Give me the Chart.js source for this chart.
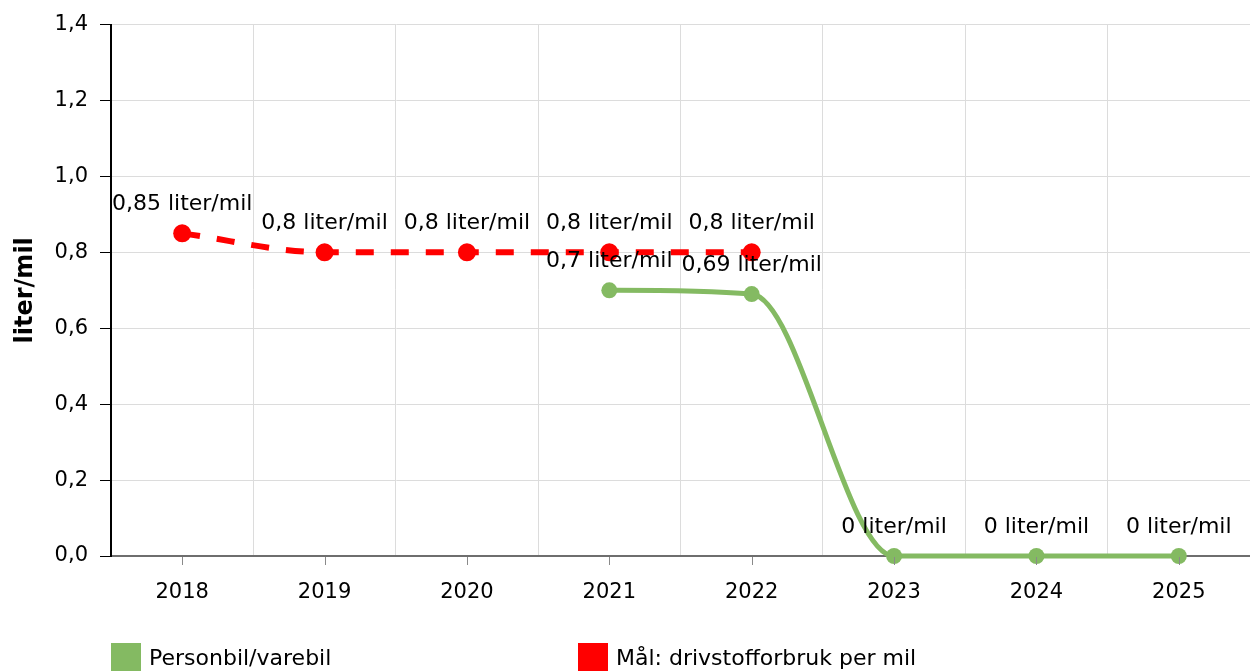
<!DOCTYPE html>
<html>
<head>
<meta charset="utf-8">
<script src="https://cdn.jsdelivr.net/npm/chart.js@4"></script>
<style>
  html, body { margin: 0; padding: 0; background: #fff; overflow: hidden; }
  #wrap { position: relative; width: 1250px; height: 671px; }
  #legend { position: absolute; left: 111px; top: 643px; display: flex; font-family: "DejaVu Sans", Verdana, sans-serif; font-size: 22px; color: #000; }
  .item { display: flex; align-items: flex-start; width: 467px; }
  .box { width: 30px; height: 30px; margin-right: 8px; flex: none; }
  .txt { line-height: 30px; white-space: nowrap; }
</style>
</head>
<body>
<div id="wrap">
  <canvas id="c" width="1250" height="671"></canvas>
  <div id="legend"></div>
</div>
<script>
const categories = ["2018", "2019", "2020", "2021", "2022", "2023", "2024", "2025"];
const personbil = [null, null, null, 0.7, 0.69, 0, 0, 0];
const maal = [0.85, 0.8, 0.8, 0.8, 0.8, null, null, null];
const seriesNames = ["Personbil/varebil", "Mål: drivstofforbruk per mil"];
const yTicks = [0, 0.2, 0.4, 0.6, 0.8, 1.0, 1.2, 1.4];
const unit = " liter/mil";
const FONT = '"DejaVu Sans", Verdana, sans-serif';

function fmt(v) {
  return String(Number(v.toFixed(2))).replace('.', ',');
}

const labelPlugin = {
  id: 'pointLabels',
  afterDatasetsDraw(chart) {
    const ctx = chart.ctx;
    ctx.save();
    ctx.font = '22px ' + FONT;
    ctx.fillStyle = '#000';
    ctx.textAlign = 'center';
    ctx.textBaseline = 'middle';
    chart.data.datasets.forEach((ds, i) => {
      const meta = chart.getDatasetMeta(i);
      meta.data.forEach((pt, j) => {
        const v = ds.data[j];
        if (v === null || v === undefined) return;
        ctx.fillText(fmt(v) + unit, pt.x, pt.y - 29);
      });
    });
    ctx.restore();
  }
};

const xTickPlugin = {
  id: 'xTickMarks',
  afterDraw(chart) {
    const ctx = chart.ctx;
    const xs = chart.scales.x;
    const y0 = chart.chartArea.bottom;
    ctx.save();
    ctx.strokeStyle = '#8a8a8a';
    ctx.lineWidth = 1;
    for (let i = 0; i < categories.length; i++) {
      const x = Math.round(xs.getPixelForTick(i)) + 0.5;
      ctx.beginPath();
      ctx.moveTo(x, y0 + 1);
      ctx.lineTo(x, y0 + 9);
      ctx.stroke();
    }
    ctx.restore();
  }
};

const chart = new Chart(document.getElementById('c'), {
  type: 'line',
  data: {
    labels: categories,
    datasets: [
      {
        label: seriesNames[0],
        data: personbil,
        borderColor: '#84ba62',
        backgroundColor: '#84ba62',
        borderWidth: 5,
        pointRadius: 8,
        pointBorderWidth: 0,
        pointHoverRadius: 8,
        cubicInterpolationMode: 'monotone',
        spanGaps: false,
        clip: false,
        order: 2
      },
      {
        label: seriesNames[1],
        data: maal,
        borderColor: '#ff0000',
        backgroundColor: '#ff0000',
        borderWidth: 6,
        borderDash: [18, 17],
        pointRadius: 9,
        pointBorderWidth: 0,
        pointHoverRadius: 9,
        cubicInterpolationMode: 'monotone',
        clip: false,
        order: 1
      }
    ]
  },
  options: {
    responsive: false,
    animation: false,
    events: [],
    layout: { autoPadding: false, padding: { top: 20, right: 0, left: 0, bottom: 0 } },
    plugins: {
      legend: { display: false },
      tooltip: { enabled: false }
    },
    scales: {
      x: {
        type: 'category',
        offset: true,
        grid: {
          offset: true,
          color: '#dcdcdc',
          lineWidth: 1,
          drawTicks: false
        },
        border: { display: true, color: '#6e6e6e', width: 2 },
        ticks: {
          font: { family: FONT, size: 21 },
          color: '#000',
          padding: 24,
          maxRotation: 0
        },
        afterFit(scale) {
          scale.height = 115;
          scale.paddingLeft = 0;
          scale.paddingRight = 0;
        }
      },
      y: {
        min: 0,
        max: 1.4,
        afterBuildTicks(scale) { scale.ticks = yTicks.map(v => ({ value: v })); },
        grid: {
          color: '#dcdcdc',
          lineWidth: 1,
          tickColor: '#000',
          tickLength: 11,
          drawTicks: true
        },
        border: { display: true, color: '#000', width: 2 },
        ticks: {
          font: { family: FONT, size: 21 },
          color: '#000',
          padding: 12,
          callback: (v) => Number(v).toFixed(1).replace('.', ',')
        },
        title: {
          display: true,
          text: 'liter/mil',
          font: { family: FONT, size: 24, weight: 'bold' },
          color: '#000',
          padding: { top: 11, bottom: 0 }
        },
        afterFit(scale) { scale.width = 111; }
      }
    }
  },
  plugins: [labelPlugin, xTickPlugin]
});

const legend = document.getElementById('legend');
chart.data.datasets.forEach(ds => {
  const item = document.createElement('div');
  item.className = 'item';
  const box = document.createElement('div');
  box.className = 'box';
  box.style.background = ds.backgroundColor;
  const txt = document.createElement('div');
  txt.className = 'txt';
  txt.textContent = ds.label;
  item.appendChild(box);
  item.appendChild(txt);
  legend.appendChild(item);
});
</script>
</body>
</html>
